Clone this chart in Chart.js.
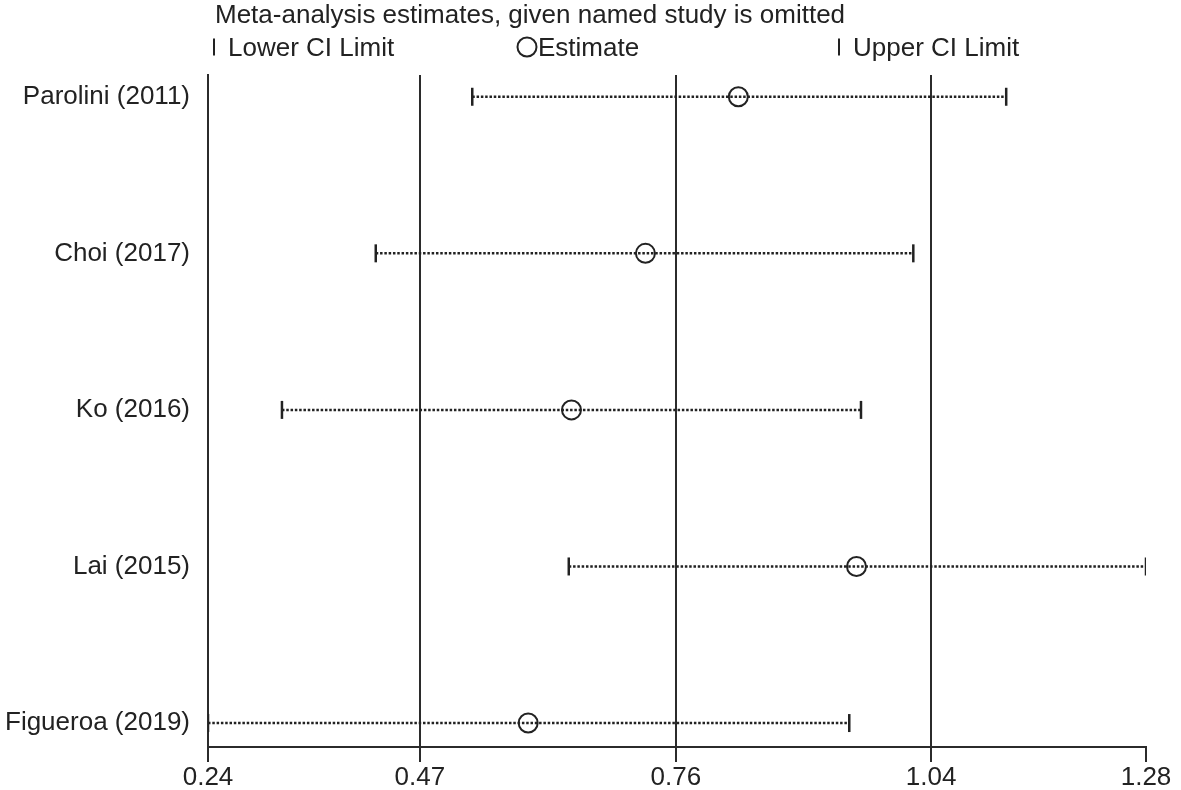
<!DOCTYPE html>
<html>
<head>
<meta charset="utf-8">
<script src="https://cdn.jsdelivr.net/npm/chart.js@4.4.1/dist/chart.umd.min.js"></script>
<style>
  html, body { margin: 0; padding: 0; background: #fff; }
</style>
</head>
<body>
<canvas id="chart" width="1181" height="790"></canvas>
<script>
// Studies, top to bottom
const studies = ['Parolini (2011)', 'Choi (2017)', 'Ko (2016)', 'Lai (2015)', 'Figueroa (2019)'];
const lowerCI = [0.533, 0.426, 0.322, 0.640, 0.240];
const estimate = [0.828, 0.725, 0.643, 0.959, 0.595];
const upperCI = [1.125, 1.022, 0.964, 1.280, 0.951];

// x axis ticks (labels are rounded values)
const xTickValues = [0.24, 0.4749, 0.7588, 1.0418, 1.28];
const xTickLabels = ['0.24', '0.47', '0.76', '1.04', '1.28'];

const chartTitle = 'Meta-analysis estimates, given named study is omitted';
const legendLabels = ['Lower CI Limit', 'Estimate', 'Upper CI Limit'];

const ink = '#222';
const lineInk = '#2b2b2b';
const fontFamily = '"Liberation Sans", Arial, Helvetica, sans-serif';
Chart.defaults.font.family = fontFamily;
Chart.defaults.color = ink;

// title + legend drawn above the plot (Stata style)
const headerPlugin = {
  id: 'header',
  afterDraw(chart) {
    const { ctx, chartArea } = chart;
    const left = chartArea.left;
    ctx.save();
    ctx.fillStyle = ink;
    ctx.strokeStyle = ink;
    ctx.font = '26px ' + fontFamily;
    ctx.textBaseline = 'alphabetic';
    ctx.fillText(chartTitle, left + 7, 23);

    const yMid = 47, yBase = 56;
    ctx.lineWidth = 2;
    // lower CI
    ctx.beginPath();
    ctx.moveTo(left + 6, yMid - 8.5);
    ctx.lineTo(left + 6, yMid + 8.5);
    ctx.stroke();
    ctx.fillText(legendLabels[0], left + 20, yBase);
    // estimate
    ctx.beginPath();
    ctx.arc(left + 319, yMid, 9.5, 0, Math.PI * 2);
    ctx.stroke();
    ctx.fillText(legendLabels[1], left + 330, yBase);
    // upper CI
    ctx.beginPath();
    ctx.moveTo(left + 631, yMid - 8.5);
    ctx.lineTo(left + 631, yMid + 8.5);
    ctx.stroke();
    ctx.fillText(legendLabels[2], left + 645, yBase);
    ctx.restore();
  }
};

// one dotted line per study, from lower to upper limit
const ciSets = studies.map((s, i) => ({
  label: s,
  data: [{ x: lowerCI[i], y: i }, { x: upperCI[i], y: i }],
  showLine: true,
  borderColor: ink,
  borderWidth: 2.5,
  borderDash: [2.5, 1.8],
  pointRadius: 0
}));

const capStyle = {
  pointStyle: 'line',
  rotation: 90,
  pointRadius: 9,
  borderWidth: 2.5,
  borderColor: ink,
  backgroundColor: ink,
  showLine: false
};

const datasets = [
  ...ciSets,
  { label: 'Lower CI Limit', data: lowerCI.map((v, i) => ({ x: v, y: i })), ...capStyle },
  { label: 'Upper CI Limit', data: upperCI.map((v, i) => ({ x: v, y: i })), ...capStyle },
  {
    label: 'Estimate',
    data: estimate.map((v, i) => ({ x: v, y: i })),
    pointStyle: 'circle',
    pointRadius: 9.5,
    borderWidth: 2,
    borderColor: ink,
    backgroundColor: 'rgba(0,0,0,0)',
    showLine: false
  }
];

new Chart(document.getElementById('chart'), {
  type: 'scatter',
  data: { datasets },
  plugins: [headerPlugin],
  options: {
    responsive: false,
    animation: false,
    devicePixelRatio: 1,
    layout: { padding: { top: 75, right: 35, left: 0, bottom: 0 } },
    plugins: {
      legend: { display: false },
      tooltip: { enabled: false },
      title: { display: false }
    },
    scales: {
      x: {
        type: 'linear',
        min: 0.24,
        max: 1.28,
        afterBuildTicks: s => { s.ticks = xTickValues.map(v => ({ value: v })); },
        afterFit: s => { s.height = 43; },
        ticks: {
          callback: (v, i) => xTickLabels[i],
          padding: 0,
          maxRotation: 0,
          autoSkip: false,
          font: { size: 26 },
          color: ink
        },
        grid: {
          color: c => (c.index === xTickValues.length - 1 ? 'rgba(0,0,0,0)' : lineInk),
          lineWidth: 2,
          tickLength: 15,
          tickColor: lineInk,
          tickWidth: 2
        },
        border: { display: true, color: lineInk, width: 2 }
      },
      y: {
        type: 'linear',
        reverse: true,
        min: -0.139,
        max: 4.153,
        afterBuildTicks: s => { s.ticks = studies.map((_, i) => ({ value: i })); },
        afterFit: s => { s.width = 208; },
        ticks: {
          callback: v => studies[v],
          padding: 18,
          autoSkip: false,
          font: { size: 26 },
          color: ink
        },
        grid: { color: 'rgba(0,0,0,0)', drawTicks: false },
        border: { display: true, color: lineInk, width: 2 }
      }
    }
  }
});
</script>
</body>
</html>
